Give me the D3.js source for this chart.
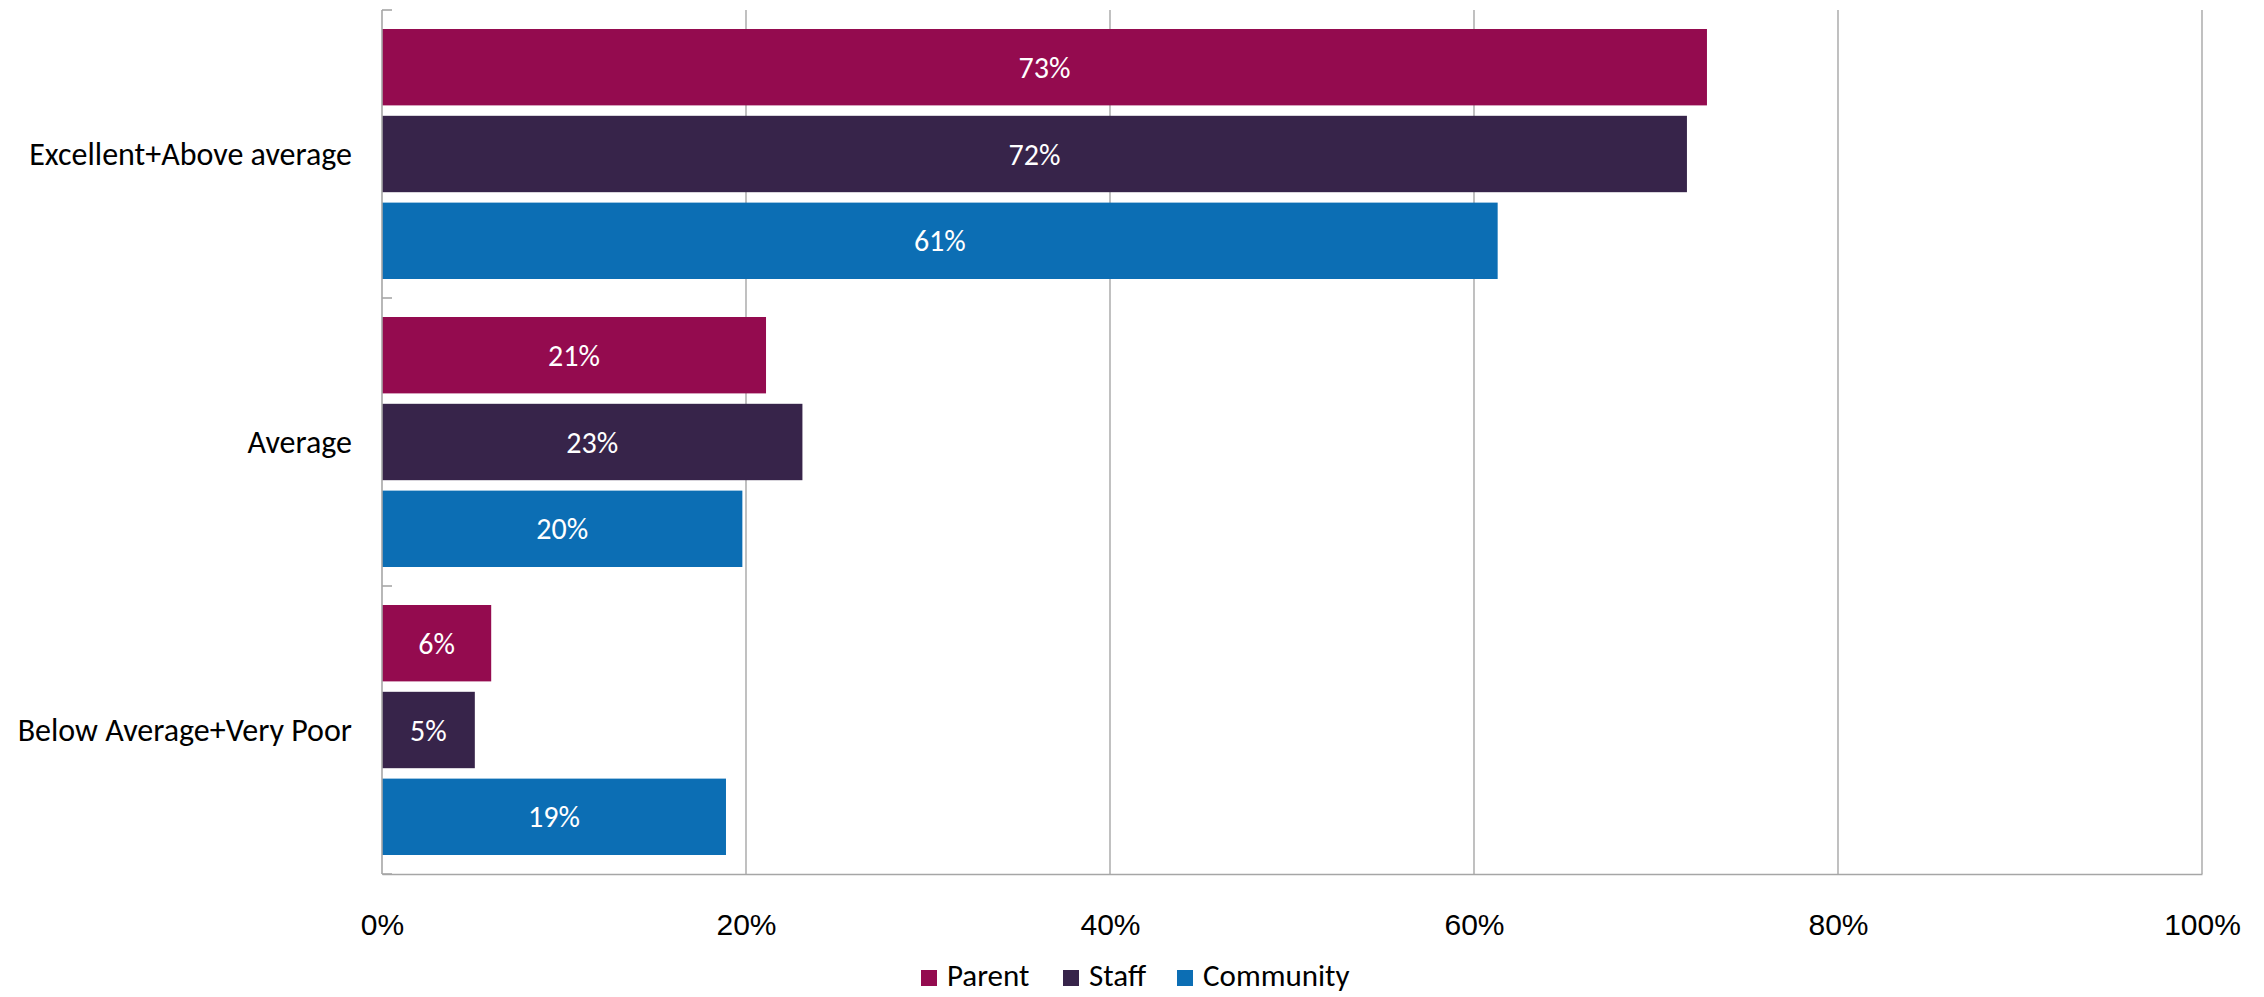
<!DOCTYPE html>
<html>
<head>
<meta charset="utf-8">
<script src="https://cdn.jsdelivr.net/npm/d3@7"></script>
<style>
  html, body { margin: 0; padding: 0; background: #fff; }
  svg { display: block; font-family: Carlito, Calibri, Lato, sans-serif; }
</style>
</head>
<body>
<svg id="chart" width="2264" height="997"></svg>
<script>
// Survey response groups (top to bottom)
const categories = ["Excellent+Above average", "Average", "Below Average+Very Poor"];
const seriesNames = ["Parent", "Staff", "Community"];
const seriesColors = ["#940B4F", "#37244A", "#0C6EB4"];

// Share of respondents, in percent
const parentValues = [72.8, 21.1, 6.0];
const staffValues = [71.7, 23.1, 5.1];
const communityValues = [61.3, 19.8, 18.9];

const xTicks = [0, 20, 40, 60, 80, 100];

const seriesValues = [parentValues, staffValues, communityValues];
const rows = categories.map((c, i) => ({
  category: c,
  values: seriesNames.map((s, j) => ({ series: s, value: seriesValues[j][i], color: seriesColors[j] }))
}));

const svg = d3.select("#chart");
const margin = { left: 382, right: 62, top: 10, bottom: 123 };
const W = 2264, H = 997;
const innerW = W - margin.left - margin.right;
const innerH = H - margin.top - margin.bottom;

const g = svg.append("g").attr("transform", `translate(${margin.left},${margin.top})`);

const x = d3.scaleLinear().domain([0, 100]).range([0, innerW]);
const y0 = d3.scaleBand().domain(categories).range([0, innerH]).paddingInner(0).paddingOuter(0);
const y1 = d3.scaleBand().domain(seriesNames).range([19, y0.bandwidth() - 19]).paddingInner(0.12);

const gridColor = "#A6A6A6";
const fontSize = 30;
const catFontSize = 32;
const legendFontSize = 31;

// vertical gridlines
g.append("g")
  .selectAll("line")
  .data(xTicks.filter(t => t > 0))
  .join("line")
  .attr("x1", d => x(d)).attr("x2", d => x(d))
  .attr("y1", 0).attr("y2", innerH)
  .attr("stroke", gridColor).attr("stroke-width", 1.4);

// bars
const groups = g.append("g")
  .selectAll("g")
  .data(rows)
  .join("g")
  .attr("transform", d => `translate(0,${y0(d.category)})`);

groups.selectAll("rect")
  .data(d => d.values)
  .join("rect")
  .attr("x", 0)
  .attr("y", d => y1(d.series))
  .attr("width", d => x(d.value))
  .attr("height", y1.bandwidth())
  .attr("fill", d => d.color);

groups.selectAll("text")
  .data(d => d.values)
  .join("text")
  .attr("x", d => x(d.value) / 2)
  .attr("y", d => y1(d.series) + y1.bandwidth() / 2)
  .attr("dy", "0.35em")
  .attr("text-anchor", "middle")
  .attr("fill", "#fff")
  .attr("font-size", fontSize)
  .text(d => Math.round(d.value) + "%");

// bottom axis
const xAxis = g.append("g")
  .attr("transform", `translate(0,${innerH})`)
  .call(d3.axisBottom(x).tickValues(xTicks).tickSize(0).tickPadding(40).tickFormat(d => d + "%"));
xAxis.select(".domain").attr("stroke", gridColor).attr("stroke-width", 1.6);
xAxis.selectAll("text").attr("font-size", fontSize).attr("fill", "#000").attr("font-family", null);

// left axis with inward category ticks
const yAxis = g.append("g");
yAxis.append("line")
  .attr("x1", 0).attr("x2", 0).attr("y1", 0).attr("y2", innerH)
  .attr("stroke", gridColor).attr("stroke-width", 1.6);
yAxis.selectAll("line.tick")
  .data([0, ...categories.map(c => y0(c) + y0.bandwidth())])
  .join("line")
  .attr("class", "tick")
  .attr("x1", 0).attr("x2", 10)
  .attr("y1", d => d).attr("y2", d => d)
  .attr("stroke", gridColor).attr("stroke-width", 1.6);
yAxis.selectAll("text")
  .data(categories)
  .join("text")
  .attr("x", -30)
  .attr("y", d => y0(d) + y0.bandwidth() / 2)
  .attr("dy", "0.35em")
  .attr("text-anchor", "end")
  .attr("font-size", catFontSize)
  .attr("fill", "#000")
  .text(d => d);

// legend
const legend = svg.append("g").attr("transform", "translate(921,970)");
const legendX = [0, 142, 256];
const items = legend.selectAll("g")
  .data(seriesNames)
  .join("g")
  .attr("transform", (d, i) => `translate(${legendX[i]},0)`);
items.append("rect")
  .attr("width", 16).attr("height", 16)
  .attr("fill", (d, i) => seriesColors[i]);
items.append("text")
  .attr("x", 26).attr("y", 16)
  .attr("font-size", legendFontSize)
  .attr("fill", "#000")
  .text(d => d);
</script>
</body>
</html>
